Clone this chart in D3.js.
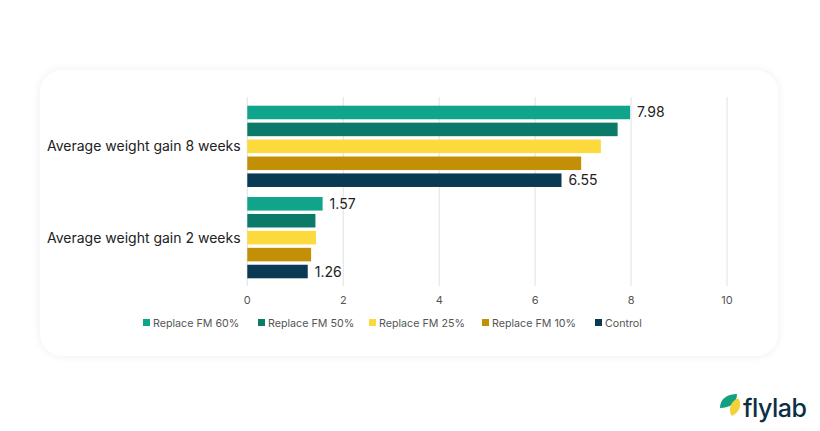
<!DOCTYPE html>
<html>
<head>
<meta charset="utf-8">
<script src="https://cdn.jsdelivr.net/npm/d3@7"></script>
<style>
  html, body { margin: 0; padding: 0; background: #fff; }
  body { width: 820px; height: 431px; position: relative; overflow: hidden; font-family: Inter, "Open Sans", sans-serif; }
  #card { position: absolute; left: 40px; top: 70px; width: 738px; height: 286px; background: #fff; border-radius: 22px;
          box-shadow: 0 0 10px rgba(0,0,0,0.07); }
  svg { position: absolute; left: 0; top: 0; }
</style>
</head>
<body>
<div id="card"></div>
<div id="chart"></div>
<script>
// data
const categories = ['Average weight gain 8 weeks', 'Average weight gain 2 weeks'];
const series = ['Replace FM 60%', 'Replace FM 50%', 'Replace FM 25%', 'Replace FM 10%', 'Control'];
const colors = ['#10a48b', '#0c7a69', '#fcd93c', '#c28f06', '#0a3a53'];
const week8 = [7.98, 7.72, 7.37, 6.96, 6.55];
const week2 = [1.57, 1.42, 1.43, 1.33, 1.26];
const ticks = [0, 2, 4, 6, 8, 10];
const shown = { 0: true, 4: true }; // values labelled on the bars

const W = 820, H = 431;
const FONT = 'Inter, "Open Sans", sans-serif';
const svg = d3.select('#chart').append('svg').attr('width', W).attr('height', H);

const x = d3.scaleLinear().domain([0, 10]).range([247.3, 727]);
const y0 = d3.scaleBand().domain(categories).range([105.7, 278.3]).paddingInner(0.11).paddingOuter(0);
const y1 = d3.scaleBand().domain(series).range([0, y0.bandwidth()]).paddingInner(0.2).paddingOuter(0);

// gridlines
svg.append('g').selectAll('line').data(ticks).join('line')
  .attr('x1', x).attr('x2', x).attr('y1', 97).attr('y2', 286)
  .attr('stroke', '#e2e2e2').attr('stroke-width', 1);

// x tick labels
svg.append('g').selectAll('text').data(ticks).join('text')
  .attr('x', x).attr('y', 304).attr('text-anchor', 'middle')
  .attr('font-family', FONT).attr('font-size', 11).attr('fill', '#555')
  .text(d => d);

// bars
const rows = [week8, week2];
const flat = [];
categories.forEach((c, ci) => series.forEach((s, si) => flat.push({ c, s, si, v: rows[ci][si] })));

svg.append('g').selectAll('rect').data(flat).join('rect')
  .attr('x', x(0)).attr('y', d => y0(d.c) + y1(d.s))
  .attr('width', d => x(d.v) - x(0)).attr('height', y1.bandwidth())
  .attr('fill', d => colors[d.si]);

// value labels
svg.append('g').selectAll('text').data(flat.filter(d => shown[d.si])).join('text')
  .attr('x', d => x(d.v) + 7).attr('y', d => y0(d.c) + y1(d.s) + y1.bandwidth() / 2 + 5)
  .attr('font-family', FONT).attr('font-size', 14).attr('fill', '#222')
  .text(d => d3.format('.2f')(d.v));

// category labels
svg.append('g').selectAll('text').data(categories).join('text')
  .attr('x', 47).attr('y', d => y0(d) + y0.bandwidth() / 2 + 5)
  .attr('font-family', FONT).attr('font-size', 14).attr('fill', '#222')
  .text(d => d);

// legend
const legX = [143, 258, 369, 482, 595];
const leg = svg.append('g').selectAll('g').data(series).join('g')
  .attr('transform', (d, i) => `translate(${legX[i]},323)`);
leg.append('rect').attr('x', 0).attr('y', -4).attr('width', 7).attr('height', 7).attr('fill', (d, i) => colors[i]);
leg.append('text').attr('x', 10).attr('y', 3.5)
  .attr('font-family', FONT).attr('font-size', 10.7).attr('fill', '#555').text(d => d);

// flylab logo
const logo = svg.append('g').attr('transform', 'translate(718,392)');
logo.append('path').attr('d', 'M2,16 C2,7 9,2 19,2 C19,11 12,16 2,16 Z').attr('fill', '#12a07f');
logo.append('path').attr('d', 'M14,24 C9,18 13,9 20,6 C25,12 21,21 14,24 Z').attr('fill', '#f2d23b');
logo.append('text').attr('x', 25).attr('y', 25)
  .attr('font-family', FONT).attr('font-size', 25).attr('font-weight', 500).attr('fill', '#0c2f45')
  .attr('letter-spacing', -0.5).text('flylab');
</script>
</body>
</html>
